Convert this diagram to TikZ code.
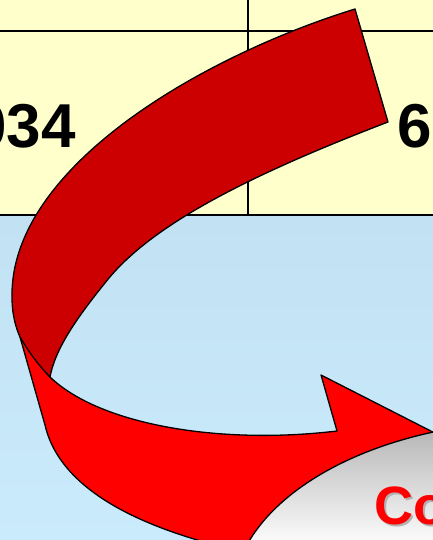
\documentclass[tikz,border=0pt]{standalone}
\usepackage{fontspec}
\setmainfont{Liberation Sans}
\definecolor{tabyellow}{RGB}{255,255,204}
\definecolor{bgblueA}{RGB}{194,226,244}
\definecolor{bgblueB}{RGB}{202,235,252}
\definecolor{darkred}{RGB}{204,0,0}
\definecolor{brightred}{RGB}{255,0,0}
\definecolor{ellgreyA}{RGB}{180,180,180}
\definecolor{ellgreyB}{RGB}{250,250,250}
\tikzset{
  tableline/.style={draw=black, line width=1.6pt},
  ribbon/.style={draw=black, line width=1.3pt, line join=round},
  bignum/.style={inner sep=0pt, font=\fontsize{62}{62}\selectfont\bfseries},
  ovaltext/.style={inner sep=0pt, font=\fontsize{54}{54}\selectfont\bfseries},
}
\begin{document}
\begin{tikzpicture}[x=1pt,y=-1pt]
\useasboundingbox (0,0) rectangle (433,540);
% backgrounds
\fill[tabyellow] (0,0) rectangle (433,215);
\shade[top color=bgblueA, bottom color=bgblueB] (0,215) rectangle (433,540);
% table lines
\draw[tableline] (0,31) -- (433,31);
\draw[tableline] (248,-2) -- (248,215);
\draw[tableline] (-2,215) -- (435,215);
% numbers
\node[bignum, anchor=base east] (n034) at (76,148) {034};
\node[bignum, anchor=base west] (n6) at (397,148) {6};
% bright lower ribbon with arrow head
\coordinate (fold1) at (20,337);
\coordinate (fold2) at (50,377);
\coordinate (barb) at (321,375);
\coordinate (notch) at (337,431);
\coordinate (tip) at (470,451);
\draw[ribbon, fill=brightred]
  (fold1) -- (45,425)
  .. controls (60,490) and (140,525) .. (215,545)
  -- (300,548) -- (tip) -- (barb) -- (notch)
  .. controls (220,445) and (100,425) .. (fold2)
  -- cycle;
% dark upper ribbon
\draw[ribbon, fill=darkred]
  (355,9) .. controls (200,57) and (10,168) .. (12,297)
  .. controls (12,315) and (16,328) .. (fold1)
  .. controls (30,354) and (40,367) .. (fold2)
  .. controls (55,350) and (75,320) .. (105,283)
  .. controls (150,225) and (250,175) .. (388,122)
  -- cycle;
% grey oval
\begin{scope}
  \clip (540,600) ellipse [x radius=308pt, y radius=179pt];
  \shade[top color=ellgreyA, bottom color=ellgreyB] (220,425) rectangle (440,540);
  \fill[ellgreyB] (220,540) rectangle (440,560);
\end{scope}
\draw[line width=1.3pt] (540,600) ellipse [x radius=308pt, y radius=179pt];
% oval text with shadow
\node[ovaltext, anchor=base west, text=black!30] (cotshadow) at (376,526) {Co};
\node[ovaltext, anchor=base west, text=brightred] (cotext) at (374,524) {Co};
\end{tikzpicture}
\end{document}
